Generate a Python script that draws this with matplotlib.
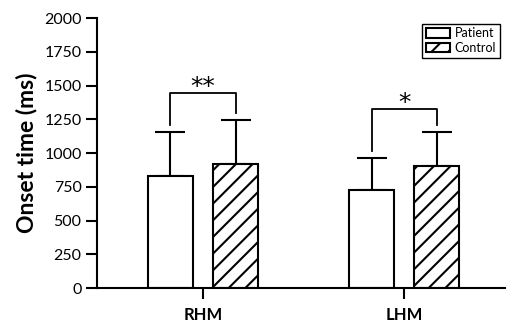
import matplotlib.pyplot as plt
import numpy as np

plt.rcParams['font.family'] = ['Lato', 'DejaVu Sans']
plt.rcParams['hatch.linewidth'] = 1.5

groups = ['RHM', 'LHM']
patient = [830, 726]
control = [918, 904]
patient_err = [325, 237]
control_err = [326, 252]
# bracket height and significance marks
bracket_top = [1444, 1326]
bracket_left = [1207, 1015]
bracket_right = [1296, 1207]
stars = ['**', '*']

x = np.arange(len(groups))
w = 0.224
off = 0.162

fig = plt.figure(figsize=(5.1, 3.24), dpi=100)
ax = fig.add_axes([0.19, 0.111, 0.80, 0.833])

ax.bar(x - off, patient, w, color='white', edgecolor='black', linewidth=1.5,
       label='Patient', zorder=2)
ax.bar(x + off, control, w, color='white', edgecolor='black', linewidth=1.5,
       hatch='//', label='Control', zorder=2)
ax.errorbar(x - off, patient, yerr=[np.zeros(2), patient_err], fmt='none',
            ecolor='black', elinewidth=1.5, capsize=11, capthick=1.5, zorder=1)
ax.errorbar(x + off, control, yerr=[np.zeros(2), control_err], fmt='none',
            ecolor='black', elinewidth=1.5, capsize=11, capthick=1.5, zorder=1)

for i in range(len(groups)):
    xl, xr = x[i] - off, x[i] + off
    ax.plot([xl, xl, xr, xr], [bracket_left[i], bracket_top[i], bracket_top[i], bracket_right[i]],
            color='black', lw=1.3)
    ax.text(x[i], bracket_top[i] - 45, stars[i], ha='center', va='bottom',
            fontsize=18, family='DejaVu Sans')

ax.set_xlim(-0.527, 1.50)
ax.set_ylim(0, 2000)
ax.set_yticks(np.arange(0, 2001, 250))
ax.set_xticks(x)
ax.set_xticklabels(groups, fontweight='bold', fontsize=12)
ax.tick_params(axis='y', labelsize=11.5, length=8, width=1.5, pad=3)
ax.tick_params(axis='x', length=8, width=1.5, pad=6)
ax.spines['top'].set_visible(False)
ax.spines['right'].set_visible(False)
ax.spines['left'].set_linewidth(1.5)
ax.spines['bottom'].set_linewidth(1.5)
ax.set_ylabel('Onset time (ms)', fontweight='bold', fontsize=16.5, labelpad=5)

leg = ax.legend(loc='upper right', bbox_to_anchor=(0.988, 0.98), fontsize=9,
                fancybox=False, edgecolor='black', framealpha=1,
                handlelength=1.9, handleheight=0.8, borderpad=0.3,
                labelspacing=0.2, handletextpad=0.4, borderaxespad=0)
leg.get_frame().set_linewidth(1.0)

fig.savefig('out.png', dpi=100)
